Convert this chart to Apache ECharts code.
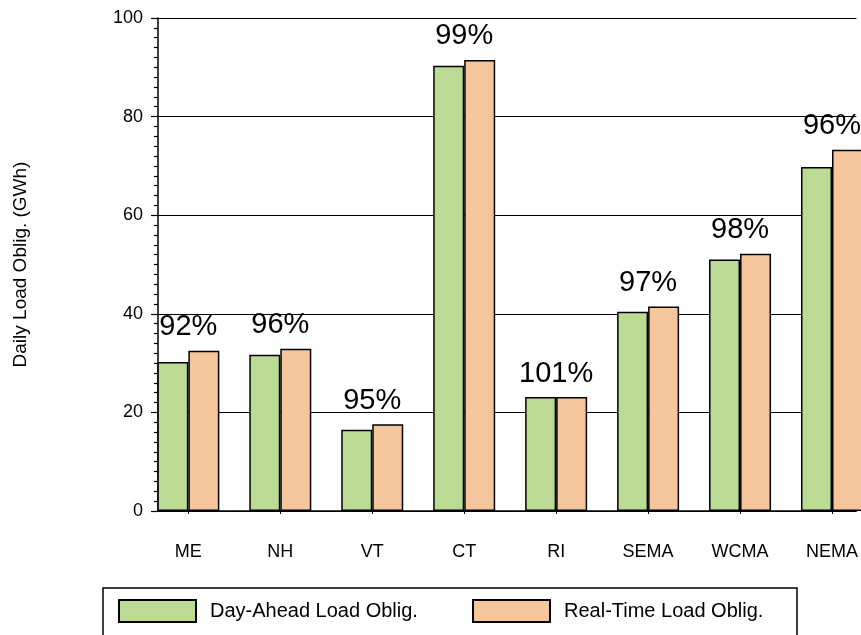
<!DOCTYPE html>
<html>
<head>
<meta charset="utf-8">
<script src="https://cdn.jsdelivr.net/npm/echarts@6/dist/echarts.min.js"></script>
<style>
  html, body { margin: 0; padding: 0; background: #fff; }
  #chart { width: 861px; height: 635px; }
</style>
</head>
<body>
<div id="chart"></div>
<script>
var regions = ['ME', 'NH', 'VT', 'CT', 'RI', 'SEMA', 'WCMA', 'NEMA'];
var dayAhead = [30.2, 31.7, 16.5, 90.3, 23.1, 40.4, 51.0, 69.8];
var realTime = [32.5, 32.9, 17.6, 91.5, 23.1, 41.5, 52.2, 73.3];
var ratioLabels = ['92%', '96%', '95%', '99%', '101%', '97%', '98%', '96%'];
var yTicks = [0, 20, 40, 60, 80, 100];

var font = 'Liberation Sans, Arial, sans-serif';

function pairs(values) {
  var out = [];
  for (var i = 0; i < values.length; i++) {
    out.push([i, values[i]]);
  }
  return out;
}

var positions = [];
for (var i = 0; i < regions.length; i++) positions.push(i);

var chart = echarts.init(document.getElementById('chart'));

var option = {
  backgroundColor: '#fff',
  animation: false,
  grid: {
    left: 158,
    right: 0,
    top: 18,
    bottom: 124
  },
  xAxis: {
    type: 'value',
    min: -0.33,
    max: 7.265,
    axisLine: { show: true, onZero: false, lineStyle: { color: '#000', width: 1.5 } },
    axisTick: { show: true, customValues: positions, length: 3, lineStyle: { color: '#000' } },
    axisLabel: {
      customValues: positions,
      margin: 32,
      color: '#000',
      fontFamily: font,
      fontSize: 18,
      formatter: function(v) { return regions[Math.round(v)] || ''; }
    },
    splitLine: { show: false }
  },
  yAxis: {
    type: 'value',
    min: 0,
    max: 100,
    interval: 20,
    name: 'Daily Load Oblig. (GWh)',
    nameLocation: 'middle',
    nameGap: 128,
    nameRotate: 90,
    nameTextStyle: { color: '#000', fontFamily: font, fontSize: 19 },
    axisLine: { show: true, onZero: false, lineStyle: { color: '#000', width: 1.5 } },
    axisTick: { show: true, length: 7, lineStyle: { color: '#000', width: 1.2 } },
    minorTick: { show: true, splitNumber: 10, length: 4, lineStyle: { color: '#000', width: 1.2 } },
    axisLabel: {
      margin: 15,
      color: '#000',
      fontFamily: font,
      fontSize: 18,
      formatter: function(v) { return yTicks.indexOf(v) >= 0 ? String(v) : ''; }
    },
    splitLine: { show: true, lineStyle: { color: '#000', width: 1.2 } }
  },
  graphic: [{
    type: 'rect',
    shape: { x: 103, y: 588, width: 694, height: 70 },
    style: { fill: 'none', stroke: '#000', lineWidth: 1.5 },
    silent: true
  }],
  legend: [{
    data: ['Day-Ahead Load Oblig.'],
    left: 113,
    top: 594,
    itemWidth: 77,
    itemHeight: 22,
    icon: 'rect',
    textStyle: { color: '#000', fontFamily: font, fontSize: 20, padding: [0, 0, 0, 9] }
  }, {
    data: ['Real-Time Load Oblig.'],
    left: 467,
    top: 594,
    itemWidth: 77,
    itemHeight: 22,
    icon: 'rect',
    textStyle: { color: '#000', fontFamily: font, fontSize: 20, padding: [0, 0, 0, 9] }
  }],
  series: [{
    name: 'Day-Ahead Load Oblig.',
    type: 'bar',
    barWidth: 31,
    barGap: '0%',
    data: pairs(dayAhead),
    itemStyle: { color: '#BBDB95', borderColor: '#000', borderWidth: 1.5 }
  }, {
    name: 'Real-Time Load Oblig.',
    type: 'bar',
    barWidth: 31,
    barGap: '0%',
    data: pairs(realTime),
    itemStyle: { color: '#F5C69B', borderColor: '#000', borderWidth: 1.5 },
    label: {
      show: true,
      position: 'top',
      distance: 9,
      offset: [-15.5, 0],
      color: '#000',
      fontFamily: font,
      fontSize: 29,
      formatter: function(p) { return ratioLabels[p.dataIndex]; }
    }
  }]
};

chart.setOption(option);
</script>
</body>
</html>
